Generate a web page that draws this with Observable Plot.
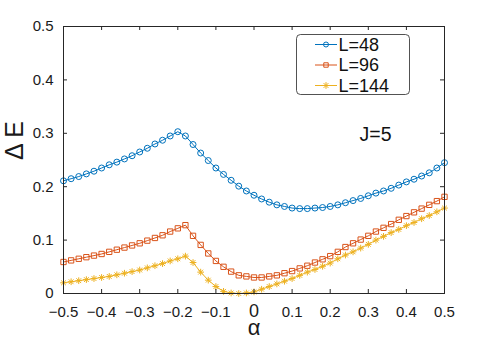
<!DOCTYPE html>
<html><head><meta charset="utf-8">
<script src="https://cdn.jsdelivr.net/npm/d3@7"></script>
<script src="https://cdn.jsdelivr.net/npm/@observablehq/plot@0.6"></script>
<style>
html,body{margin:0;padding:0;background:#fff;}
#chart svg{display:block;}
</style></head><body><div id="chart"></div>
<script>
const alpha = [-0.50,-0.48,-0.46,-0.44,-0.42,-0.40,-0.38,-0.36,-0.34,-0.32,-0.30,-0.28,-0.26,-0.24,-0.22,-0.20,-0.18,-0.16,-0.14,-0.12,-0.10,-0.08,-0.06,-0.04,-0.02,0.00,0.02,0.04,0.06,0.08,0.10,0.12,0.14,0.16,0.18,0.20,0.22,0.24,0.26,0.28,0.30,0.32,0.34,0.36,0.38,0.40,0.42,0.44,0.46,0.48,0.50];
const L48 = [0.211,0.215,0.219,0.224,0.229,0.235,0.241,0.246,0.252,0.258,0.265,0.272,0.280,0.287,0.295,0.303,0.295,0.279,0.263,0.249,0.235,0.223,0.212,0.201,0.192,0.184,0.177,0.171,0.166,0.163,0.160,0.159,0.159,0.160,0.161,0.163,0.166,0.170,0.174,0.178,0.183,0.188,0.192,0.197,0.203,0.209,0.214,0.220,0.226,0.235,0.245];
const L96 = [0.059,0.062,0.065,0.068,0.071,0.074,0.078,0.082,0.086,0.090,0.094,0.099,0.104,0.109,0.116,0.122,0.128,0.108,0.091,0.075,0.061,0.050,0.041,0.034,0.032,0.030,0.030,0.032,0.034,0.038,0.042,0.047,0.052,0.058,0.064,0.070,0.078,0.087,0.094,0.101,0.108,0.116,0.123,0.130,0.138,0.145,0.152,0.159,0.166,0.173,0.181];
const L144 = [0.020,0.022,0.024,0.026,0.028,0.030,0.032,0.035,0.038,0.041,0.044,0.048,0.052,0.056,0.061,0.065,0.070,0.058,0.040,0.025,0.013,0.004,0.001,0.000,0.001,0.003,0.008,0.013,0.018,0.023,0.028,0.034,0.040,0.045,0.051,0.057,0.065,0.072,0.078,0.085,0.092,0.100,0.107,0.114,0.120,0.127,0.133,0.140,0.146,0.153,0.160];
const seriesNames = ["L=48", "L=96", "L=144"];
const seriesColors = ["#0072BD", "#D95319", "#EDB120"];
const xTicks = [-0.5,-0.4,-0.3,-0.2,-0.1,0,0.1,0.2,0.3,0.4,0.5];
const xTickLabels = ["\u22120.5","\u22120.4","\u22120.3","\u22120.2","\u22120.1","0","0.1","0.2","0.3","0.4","0.5"];
const yTicks = [0,0.1,0.2,0.3,0.4,0.5];
const yTickLabels = ["0","0.1","0.2","0.3","0.4","0.5"];
const xLabel = "\u03b1";
const yLabel = "\u0394 E";
const note = "J=5";

const W = 491, H = 345;
const mL = 63, mR = 47, mT = 26, mB = 52;
const fw = W - mL - mR, fh = H - mT - mB;
const font = "'Liberation Sans', Arial, Helvetica, sans-serif";

const values = [L48, L96, L144];
const rows = [];
values.forEach((arr, s) => arr.forEach((v, i) => rows.push({series: seriesNames[s], x: alpha[i], y: v})));
const bySeries = name => rows.filter(r => r.series === name);
const xl = d => xTickLabels[xTicks.indexOf(d)];
const yl = d => yTickLabels[yTicks.indexOf(d)];

const svg = Plot.plot({
  width: W, height: H,
  marginLeft: mL, marginRight: mR, marginTop: mT, marginBottom: mB,
  style: {fontFamily: font, background: "#fff", color: "#262626"},
  x: {domain: [-0.5, 0.5], axis: null},
  y: {domain: [0, 0.5], axis: null},
  marks: [
    Plot.line(bySeries(seriesNames[0]), {x: "x", y: "y", stroke: seriesColors[0], strokeWidth: 1}),
    Plot.line(bySeries(seriesNames[1]), {x: "x", y: "y", stroke: seriesColors[1], strokeWidth: 1}),
    Plot.line(bySeries(seriesNames[2]), {x: "x", y: "y", stroke: seriesColors[2], strokeWidth: 1}),
    Plot.dot(bySeries(seriesNames[0]), {x: "x", y: "y", symbol: "circle", r: 3, fill: "none", stroke: seriesColors[0], strokeWidth: 1}),
    Plot.dot(bySeries(seriesNames[1]), {x: "x", y: "y", symbol: "square", r: 3, fill: "none", stroke: seriesColors[1], strokeWidth: 1}),
    Plot.dot(bySeries(seriesNames[2]), {x: "x", y: "y", symbol: "plus", r: 2.3, fill: "none", stroke: seriesColors[2], strokeWidth: 1}),
    Plot.dot(bySeries(seriesNames[2]), {x: "x", y: "y", symbol: "times", r: 2.3, fill: "none", stroke: seriesColors[2], strokeWidth: 1}),
    Plot.frame({stroke: "#262626", strokeWidth: 1}),
    Plot.tickX(xTicks, {x: d => d, insetTop: fh - 4, stroke: "#262626"}),
    Plot.tickX(xTicks, {x: d => d, insetBottom: fh - 4, stroke: "#262626"}),
    Plot.tickY(yTicks, {y: d => d, insetRight: fw - 4, stroke: "#262626"}),
    Plot.tickY(yTicks, {y: d => d, insetLeft: fw - 4, stroke: "#262626"}),
    Plot.axisX(xTicks, {tickSize: 0, tickPadding: 13, fontSize: 15, tickFormat: d => d === 0 ? "" : xl(d), label: null, fill: "#1a1a1a"}),
    Plot.text([0], {x: d => d, frameAnchor: "bottom", dy: 23, lineAnchor: "bottom", fontSize: 18, text: d => xl(d), fill: "#1a1a1a"}),
    Plot.axisY(yTicks, {tickSize: 0, tickPadding: 10, fontSize: 15, tickFormat: d => yl(d), label: null, fill: "#1a1a1a"}),
    Plot.text([xLabel], {frameAnchor: "bottom", dy: 41, lineAnchor: "bottom", fontSize: 22, text: d => d, fill: "#1a1a1a"}),
    Plot.text([yLabel], {frameAnchor: "left", dx: -49, rotate: -90, lineAnchor: "middle", fontSize: 25, text: d => d, fill: "#1a1a1a"}),
    Plot.text([note], {frameAnchor: "top-left", dx: 296, dy: 114.7, textAnchor: "start", lineAnchor: "bottom", fontSize: 19.5, text: d => d, fill: "#111"})
  ]
});

// Legend (box in the upper right of the axes)
const g = d3.select(svg).append("g").attr("font-family", font).attr("text-anchor", "start");
g.append("rect").attr("x", 296.5).attr("y", 34.5).attr("width", 113).attr("height", 60).attr("rx", 4)
  .attr("fill", "#fff").attr("stroke", "#262626").attr("stroke-width", 0.8);
const rowY = [44.5, 65, 85.5];
seriesNames.forEach((name, i) => {
  const y = rowY[i];
  const c = seriesColors[i];
  g.append("line").attr("x1", 315).attr("x2", 337).attr("y1", y).attr("y2", y).attr("stroke", c).attr("stroke-width", 1);
  const mk = (type, size) => g.append("path").attr("transform", `translate(326,${y})`)
    .attr("d", d3.symbol(type, size)()).attr("fill", "none").attr("stroke", c).attr("stroke-width", 1);
  if (i === 0) mk(d3.symbolCircle, Math.PI * 6.25);
  if (i === 1) mk(d3.symbolSquare, Math.PI * 6.25);
  if (i === 2) { mk(d3.symbolPlus, Math.PI * 2.3 * 2.3); mk(d3.symbolTimes, Math.PI * 2.3 * 2.3); }
  g.append("text").attr("x", 338.5).attr("y", y + 6.4).attr("font-size", 18).attr("text-anchor", "start").attr("fill", "#111").text(name);
});

document.getElementById("chart").appendChild(svg);
</script>
</body></html>
